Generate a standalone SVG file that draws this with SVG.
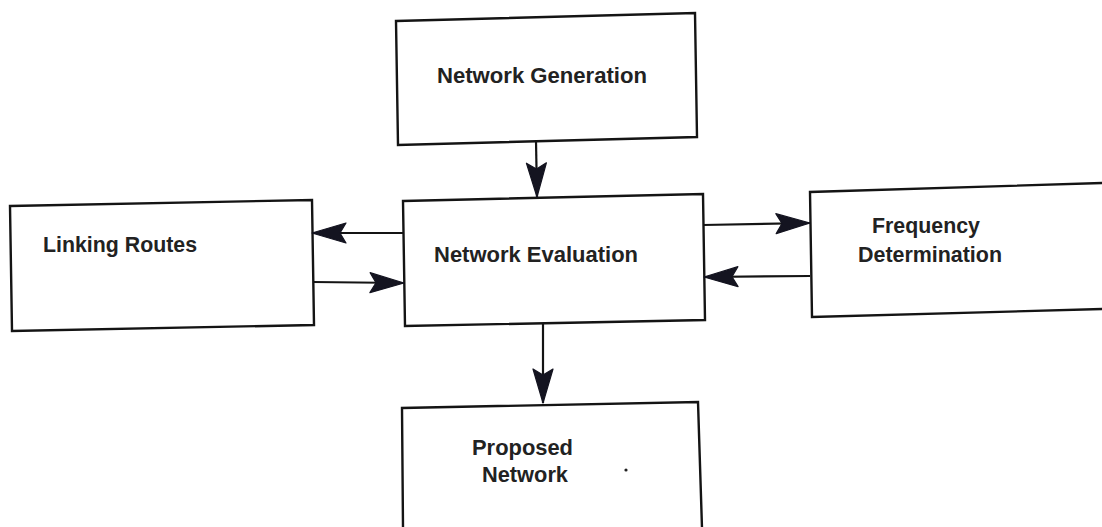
<svg xmlns="http://www.w3.org/2000/svg" width="1102" height="527" viewBox="0 0 1102 527">
<style>
.box{fill:none;stroke:#141414;stroke-width:2.4;stroke-linejoin:miter}
.lbl{font-family:"Liberation Sans",Arial,sans-serif;font-weight:bold;font-size:21.5px;fill:#222}
.con{fill:none;stroke:#141414;stroke-width:2.2;marker-end:url(#arr)}
</style>
<defs>
<marker id="arr" markerUnits="userSpaceOnUse" viewBox="-37 -12 40 24" markerWidth="40" markerHeight="24" refX="0" refY="0" orient="auto">
<path d="M0,0 L-34,-10 L-28,0 L-34,10 Z" fill="#141420" stroke="#141420" stroke-width="1.2" stroke-linejoin="round"/>
</marker>
</defs>
<rect width="1102" height="527" fill="#fff"/>
<g id="network-generation">
<polygon class="box" points="396,21 695,13 697,137 398,145"/>
<text class="lbl" x="437" y="83" textLength="210" lengthAdjust="spacingAndGlyphs">Network Generation</text>
</g>
<g id="network-evaluation">
<polygon class="box" points="403,201 703,194 705,320 405,326"/>
<text class="lbl" x="434" y="262" textLength="204" lengthAdjust="spacingAndGlyphs">Network Evaluation</text>
</g>
<g id="linking-routes">
<polygon class="box" points="10,206 312,200 314,325 12,331"/>
<text class="lbl" x="43" y="252" textLength="154" lengthAdjust="spacingAndGlyphs">Linking Routes</text>
</g>
<g id="frequency-determination">
<polyline class="box" points="1103,183 810,192 812,317 1103,309"/>
<text class="lbl" x="872" y="233" textLength="108" lengthAdjust="spacingAndGlyphs">Frequency</text>
<text class="lbl" x="858" y="262" textLength="144" lengthAdjust="spacingAndGlyphs">Determination</text>
</g>
<g id="proposed-network">
<polyline class="box" points="403,528 402,408 698,402 702,528"/>
<text class="lbl" x="472" y="455" textLength="101" lengthAdjust="spacingAndGlyphs">Proposed</text>
<text class="lbl" x="482" y="482" textLength="86" lengthAdjust="spacingAndGlyphs">Network</text>
<circle cx="626" cy="470" r="1.6" fill="#222"/>
</g>
<g id="connectors">
<line class="con" x1="536" y1="141" x2="537" y2="197"/>
<line class="con" x1="543" y1="323" x2="543" y2="403"/>
<line class="con" x1="403" y1="233" x2="312" y2="233"/>
<line class="con" x1="313" y1="282" x2="404" y2="283"/>
<line class="con" x1="703" y1="225" x2="810" y2="223"/>
<line class="con" x1="810" y1="276" x2="704" y2="277"/>
</g>
</svg>
